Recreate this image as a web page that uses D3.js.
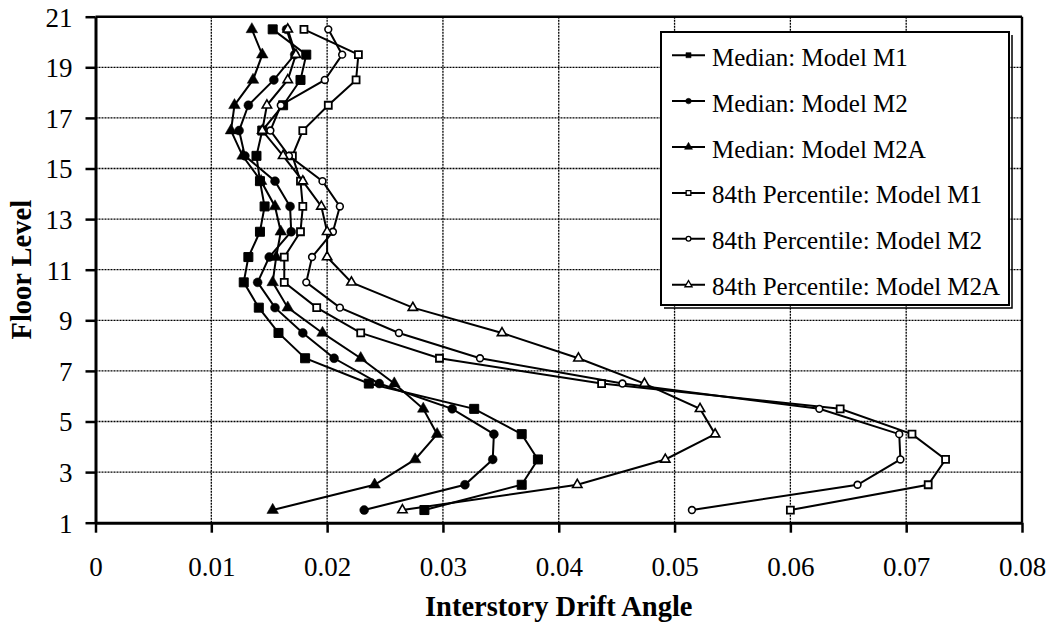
<!DOCTYPE html>
<html><head><meta charset="utf-8">
<script src="https://cdn.jsdelivr.net/npm/d3@7"></script>
<style>body{margin:0;background:#fff}svg{display:block}</style>
</head><body>
<svg id="c" width="1051" height="631"></svg>
<script>
const floors = [1.5,2.5,3.5,4.5,5.5,6.5,7.5,8.5,9.5,10.5,11.5,12.5,13.5,14.5,15.5,16.5,17.5,18.5,19.5,20.5];
const medianM1  = [0.0284,0.0368,0.0382,0.0368,0.0327,0.0236,0.0181,0.0158,0.0141,0.0128,0.0132,0.0142,0.0146,0.0142,0.0139,0.0144,0.0162,0.0177,0.0182,0.0153];
const medianM2  = [0.0232,0.0319,0.0343,0.0344,0.0308,0.0245,0.0206,0.0179,0.0155,0.0140,0.0150,0.0169,0.0168,0.0155,0.0129,0.0124,0.0132,0.0154,0.0172,0.0165];
const medianM2A = [0.0153,0.0241,0.0276,0.0295,0.0283,0.0258,0.0229,0.0196,0.0166,0.0153,0.0156,0.0160,0.0155,0.0143,0.0127,0.0117,0.0120,0.0136,0.0144,0.0135];
const p84M1     = [0.0600,0.0719,0.0734,0.0705,0.0643,0.0437,0.0297,0.0229,0.0191,0.0163,0.0163,0.0177,0.0179,0.0177,0.0170,0.0179,0.0201,0.0225,0.0227,0.0180];
const p84M2     = [0.0515,0.0658,0.0695,0.0694,0.0625,0.0455,0.0332,0.0262,0.0211,0.0182,0.0187,0.0205,0.0211,0.0196,0.0167,0.0151,0.0160,0.0198,0.0213,0.0201];
const p84M2A    = [0.0265,0.0416,0.0492,0.0535,0.0522,0.0474,0.0417,0.0351,0.0274,0.0221,0.0200,0.0200,0.0195,0.0179,0.0162,0.0144,0.0148,0.0166,0.0173,0.0166];
const seriesNames = ["Median: Model M1","Median: Model M2","Median: Model M2A","84th Percentile: Model M1","84th Percentile: Model M2","84th Percentile: Model M2A"];
const xTicks = [0,0.01,0.02,0.03,0.04,0.05,0.06,0.07,0.08];
const xTickLabels = ["0","0.01","0.02","0.03","0.04","0.05","0.06","0.07","0.08"];
const yTicks = [1,3,5,7,9,11,13,15,17,19,21];
const xTitle = "Interstory Drift Angle";
const yTitle = "Floor Level";

const seriesValues = [medianM1, medianM2, medianM2A, p84M1, p84M2, p84M2A];
const markerStyle = [
  {type: d3.symbolSquare,   size: 81, fill: "#000", sw: 1,   lsize: 26},
  {type: d3.symbolCircle,   size: 62, fill: "#000", sw: 0.5, lsize: 24},
  {type: d3.symbolTriangle, size: 58, fill: "#000", sw: 0.5, lsize: 28},
  {type: d3.symbolSquare,   size: 49, fill: "#fff", sw: 1.8, lsize: 22},
  {type: d3.symbolCircle,   size: 36, fill: "#fff", sw: 1.6, lsize: 18},
  {type: d3.symbolTriangle, size: 38, fill: "#fff", sw: 1.6, lsize: 22}
];

const FONT = "'Liberation Serif','Times New Roman',serif";
const svg = d3.select("#c");
const x = d3.scaleLinear().domain([0,0.08]).range([95.5,1022]);
const y = d3.scaleLinear().domain([1,21]).range([522.7,16.7]);

// grid
const grid = svg.append("g");
grid.selectAll("line.v").data(xTicks.slice(1, -1)).join("line")
  .attr("x1", d => x(d)).attr("x2", d => x(d)).attr("y1", y(1)).attr("y2", y(21))
  .attr("stroke", "#000").attr("stroke-width", 1.3).attr("stroke-dasharray", "2,1");
grid.selectAll("line.h").data(yTicks.slice(1, -1)).join("line")
  .attr("x1", x(0)).attr("x2", x(0.08)).attr("y1", d => y(d)).attr("y2", d => y(d))
  .attr("stroke", "#000").attr("stroke-width", 1.3).attr("stroke-dasharray", "2,1");

// frame top / right
svg.append("line").attr("x1", x(0)).attr("x2", x(0.08)).attr("y1", y(21)).attr("y2", y(21))
  .attr("stroke", "#000").attr("stroke-width", 2.4);
svg.append("line").attr("x1", x(0.08)).attr("x2", x(0.08)).attr("y1", y(21)).attr("y2", y(1))
  .attr("stroke", "#000").attr("stroke-width", 2.4);

// axes
const xAxis = svg.append("g").attr("transform", `translate(0,${y(1)})`)
  .call(d3.axisBottom(x).tickValues(xTicks).tickFormat((d, i) => xTickLabels[i]).tickSize(10).tickSizeOuter(0).tickPadding(24));
const yAxis = svg.append("g").attr("transform", `translate(${x(0)},0)`)
  .call(d3.axisLeft(y).tickValues(yTicks).tickFormat(d3.format("d")).tickSize(10).tickSizeOuter(0).tickPadding(13));
[xAxis, yAxis].forEach(a => {
  a.select(".domain").attr("stroke", "#000").attr("stroke-width", 3);
  a.selectAll(".tick line").attr("stroke", "#000").attr("stroke-width", 2.5);
  a.selectAll(".tick text").attr("fill", "#000").style("font-family", FONT).style("font-size", "27px");
});
yAxis.selectAll(".tick text").attr("dy", "0.35em");

// titles
svg.append("text").attr("x", (x(0) + x(0.08)) / 2).attr("y", 616).attr("text-anchor", "middle")
  .style("font-family", FONT).style("font-size", "28.5px").style("font-weight", "bold").text(xTitle);
svg.append("text").attr("transform", `translate(31,${(y(1) + y(21)) / 2}) rotate(-90)`).attr("text-anchor", "middle")
  .style("font-family", FONT).style("font-size", "28.5px").style("font-weight", "bold").text(yTitle);

// series
const line = d3.line().x(d => x(d.v)).y(d => y(d.f));
seriesValues.forEach((vals, si) => {
  const pts = vals.map((v, i) => ({v, f: floors[i]}));
  const g = svg.append("g");
  g.append("path").datum(pts).attr("d", line).attr("fill", "none").attr("stroke", "#000").attr("stroke-width", 2);
  const ms = markerStyle[si];
  g.selectAll("path.m").data(pts).join("path")
    .attr("transform", d => `translate(${x(d.v)},${y(d.f)})`)
    .attr("d", d3.symbol().type(ms.type).size(ms.size))
    .attr("fill", ms.fill).attr("stroke", "#000").attr("stroke-width", ms.sw);
});

// legend
const lg = svg.append("g");
const L = {x: 661, y: 32, w: 348, h: 273};
lg.append("polyline").attr("points", `${L.x+L.w+3},${L.y+3} ${L.x+L.w+3},${L.y+L.h+3} ${L.x+3},${L.y+L.h+3}`)
  .attr("fill", "none").attr("stroke", "#000").attr("stroke-width", 1.5);
lg.append("rect").attr("x", L.x).attr("y", L.y).attr("width", L.w).attr("height", L.h)
  .attr("fill", "#fff").attr("stroke", "#000").attr("stroke-width", 2);
seriesNames.forEach((name, i) => {
  const base = 65.7 + i * 45.9;
  const my = base - 10.5;
  const ms = markerStyle[i];
  lg.append("line").attr("x1", 672).attr("x2", 705).attr("y1", my).attr("y2", my).attr("stroke", "#000").attr("stroke-width", 2);
  lg.append("path").attr("transform", `translate(688.5,${my})`)
    .attr("d", d3.symbol().type(ms.type).size(ms.lsize))
    .attr("fill", ms.fill).attr("stroke", "#000").attr("stroke-width", ms.fill === "#fff" ? 1.3 : 0.5);
  lg.append("text").attr("x", 712).attr("y", base)
    .style("font-family", FONT).style("font-size", "25px").text(name);
});
</script>
</body></html>
